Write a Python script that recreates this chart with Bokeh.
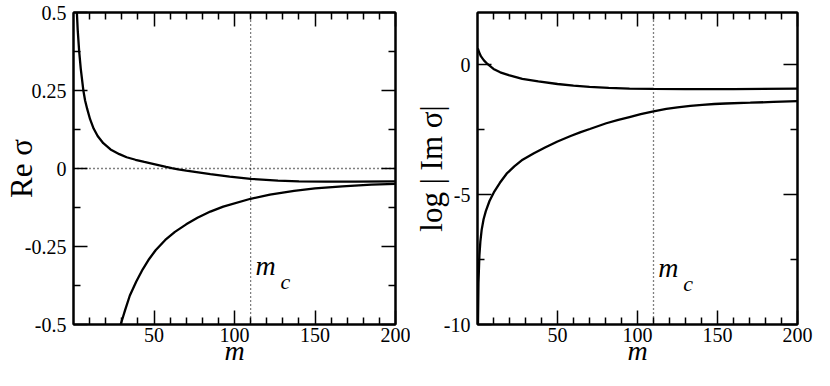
from bokeh.plotting import figure
from bokeh.models import (FixedTicker, LinearAxis, Range1d, Span, Label,
                          CustomLabelingPolicy)
from bokeh.layouts import row
from bokeh.embed import file_html
from bokeh.resources import INLINE

# ---- data ----
m_re_upper = [2.0, 2.1, 2.6, 3.5, 4.5, 6.1, 7.2, 8.5, 10.3, 12.5, 15, 18.5, 23, 28.5, 33,
              38.5, 44, 50, 57.5, 61, 65, 70, 85, 97, 110, 127, 140, 157, 175, 200]
re_upper = [0.52, 0.50, 0.445, 0.377, 0.32, 0.251, 0.218, 0.191, 0.158, 0.128, 0.104, 0.081,
            0.061, 0.046, 0.036, 0.028, 0.021, 0.014, 0.005, 0.001, -0.003, -0.007, -0.018,
            -0.026, -0.033, -0.039, -0.041, -0.042, -0.042, -0.041]

m_re_lower = [28.8, 29.3, 32, 35, 39, 43, 47, 51, 57, 63, 70, 77, 85, 93, 110, 122, 137,
              150, 167, 185, 200]
re_lower = [-0.52, -0.50, -0.455, -0.407, -0.362, -0.323, -0.290, -0.262, -0.229, -0.203,
            -0.179, -0.158, -0.138, -0.122, -0.097, -0.084, -0.072, -0.064, -0.057, -0.052,
            -0.049]

m_im_upper = [0.2, 1, 2.2, 4, 6.2, 10, 14.2, 19.5, 28, 38, 50, 60, 70, 82, 95, 110, 130,
              160, 200]
log_im_upper = [0.62, 0.47, 0.31, 0.16, 0.02, -0.17, -0.30, -0.41, -0.55, -0.65, -0.75,
                -0.81, -0.86, -0.90, -0.93, -0.94, -0.95, -0.95, -0.93]

m_im_lower = [0.3, 0.6, 1.2, 1.8, 2.6, 3.8, 5.2, 7.5, 10.2, 14, 18.2, 23, 28.2, 35, 42.2,
              50, 58.2, 64.5, 70.2, 80.5, 88, 95, 102, 110, 118, 125, 133, 140.5, 148, 155,
              170.5, 185, 200]
log_im_lower = [-10.0, -8.41, -7.33, -6.8, -6.36, -5.95, -5.64, -5.25, -4.92, -4.55, -4.20,
                -3.92, -3.66, -3.42, -3.19, -2.96, -2.75, -2.60, -2.48, -2.26, -2.13, -2.02,
                -1.91, -1.80, -1.71, -1.65, -1.59, -1.55, -1.52, -1.50, -1.47, -1.44, -1.41]

m_c = 110

x_major = [50, 100, 150, 200]
x_minor = [10, 20, 30, 40, 60, 70, 80, 90, 110, 120, 130, 140, 160, 170, 180, 190]
re_major = [-0.5, -0.25, 0, 0.25, 0.5]
re_major_labels = ["-0.5", "-0.25", "0", "0.25", "0.5"]
re_minor = [-0.375, -0.125, 0.125, 0.375]
im_major = [-10, -5, 0]
im_major_labels = ["-10", "-5", "0"]
im_minor = [-7.5, -2.5]

FONT = "Liberation Serif"
H = 370
FW = 327

NO_LABELS = """
try { for (let i = 0; i < indices.size; i++) { indices.unset(i) } } catch (e) {}
return indices
"""


def panel(bl, br, yr, ymaj, ylab, ymin, ylabel, ystand):
    p = figure(width=bl + FW + br, height=H, x_range=Range1d(0, 200), y_range=Range1d(*yr),
               output_backend="svg", toolbar_location=None,
               min_border_left=bl, min_border_right=br, min_border_top=12,
               min_border_bottom=46, x_axis_label="m", y_axis_label=ylabel)
    p.grid.visible = False
    p.background_fill_color = "white"
    p.border_fill_color = "white"
    p.outline_line_color = "black"
    p.outline_line_width = 2
    xt = FixedTicker(ticks=x_major, minor_ticks=x_minor)
    yt = FixedTicker(ticks=ymaj, minor_ticks=ymin)
    p.xaxis.ticker = xt
    p.yaxis.ticker = yt
    p.yaxis.major_label_overrides = dict(zip(ymaj, ylab))
    p.xaxis.major_label_overrides = {v: str(v) for v in x_major}
    top = LinearAxis(ticker=xt)
    right = LinearAxis(ticker=yt)
    p.add_layout(top, "above")
    p.add_layout(right, "right")
    for ax in p.axis:
        ax.axis_line_color = "black"
        ax.axis_line_width = 2
        ax.major_tick_in = 14
        ax.major_tick_out = 0
        ax.minor_tick_in = 7
        ax.minor_tick_out = 0
        ax.major_tick_line_width = 1.5
        ax.minor_tick_line_width = 1.5
        ax.major_tick_line_color = "black"
        ax.minor_tick_line_color = "black"
        ax.major_label_text_font = FONT
        ax.major_label_text_font_size = "20px"
        ax.major_label_text_color = "black"
        ax.axis_label_text_color = "black"
    for ax in (top, right):
        ax.major_label_text_font_size = "0px"
        ax.major_label_standoff = 0
        ax.major_label_policy = CustomLabelingPolicy(code=NO_LABELS)
    bx = p.below[0]
    bx.major_label_standoff = 3
    bx.axis_label_text_font = FONT
    bx.axis_label_text_font_size = "28px"
    bx.axis_label_text_font_style = "italic"
    bx.axis_label_standoff = -10
    lx = p.left[0]
    lx.major_label_standoff = 7
    lx.axis_label_text_font = FONT
    lx.axis_label_text_font_size = "31px"
    lx.axis_label_text_font_style = "normal"
    lx.axis_label_standoff = ystand
    p.add_layout(Span(location=m_c, dimension="height", line_color="black",
                      line_width=1.3, line_dash="1 3"))
    return p


p1 = panel(68, 15, (-0.5, 0.5), re_major, re_major_labels, re_minor, "Re σ", -17)
p1.add_layout(Span(location=0, dimension="width", line_color="black", line_width=1.3,
                   line_dash="1 3"))
p1.line(m_re_upper, re_upper, line_color="black", line_width=2.3)
p1.line(m_re_lower, re_lower, line_color="black", line_width=2.3)

p2 = panel(60, 16, (-10, 2), im_major, im_major_labels, im_minor, "log | Im σ|", -8)
p2.line(m_im_upper, log_im_upper, line_color="black", line_width=2.3)
p2.line(m_im_lower, log_im_lower, line_color="black", line_width=2.3)

for p, ylab in ((p1, -0.31), (p2, -7.8)):
    p.add_layout(Label(x=m_c + 3, y=ylab, text="m", text_font=FONT, text_font_size="28px",
                       text_font_style="italic", text_color="black",
                       text_baseline="alphabetic"))
    p.add_layout(Label(x=m_c + 3, y=ylab, x_offset=25, y_offset=-16, text="c",
                       text_font=FONT, text_font_size="22px", text_font_style="italic",
                       text_color="black", text_baseline="alphabetic"))

layout = row(p1, p2)
open("out.html", "w").write(file_html(layout, INLINE))
